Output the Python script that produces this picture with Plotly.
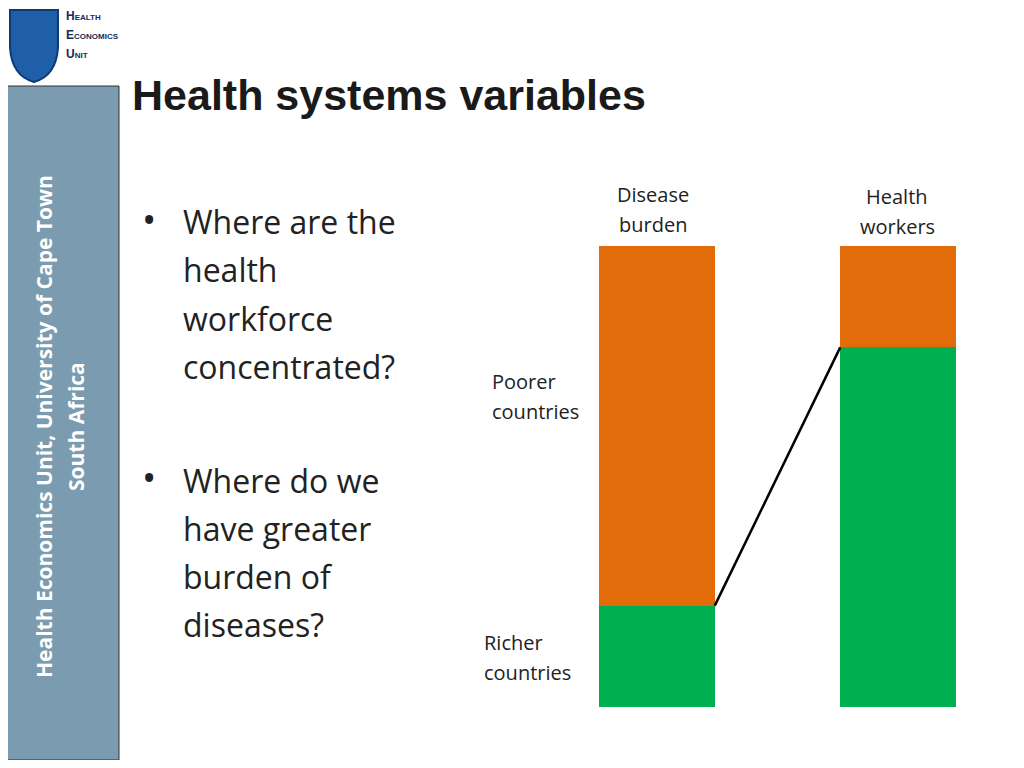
import plotly.graph_objects as go

bars = ["Disease burden", "Health workers"]
richer = [22, 78]
poorer = [78, 22]

W, H, OFF = 1008, 752, 8


def px(x):
    return (x - OFF) / W


def py(y):
    return 1 - (y - OFF) / H


fig = go.Figure()
fig.add_bar(x=[0, 1], y=richer, width=0.48, marker_color="#00b050", marker_line_width=0)
fig.add_bar(x=[0, 1], y=poorer, width=0.48, marker_color="#e36c0a", marker_line_width=0)
fig.add_scatter(x=[0.24, 0.76], y=[richer[0], richer[1]], mode="lines",
                line=dict(color="black", width=2.5))

fig.update_layout(
    barmode="stack", width=W, height=H, showlegend=False,
    margin=dict(l=0, r=0, t=0, b=0), paper_bgcolor="white", plot_bgcolor="white",
    xaxis=dict(domain=[px(599), px(956)], range=[-0.24, 1.24], visible=False),
    yaxis=dict(domain=[py(707), py(246)], range=[0, 100], visible=False),
    font=dict(family="Open Sans", color="#222"),
)


def txt(t, x, y, size, anchor="left", **kw):
    fig.add_annotation(xref="paper", yref="paper", x=px(x), y=py(y), showarrow=False,
                       xanchor=anchor, yanchor="middle", text=t,
                       font=dict(size=size, color=kw.pop("color", "#222"),
                                 family=kw.pop("family", "Open Sans")), **kw)


# sidebar
fig.add_shape(type="rect", xref="paper", yref="paper", x0=px(0), x1=px(119), y0=0, y1=py(86),
              fillcolor="#7b9bb0", line=dict(color="#333", width=1), layer="below")
txt("<b>Health Economics Unit, University of Cape Town</b>", 44, 427, 21, anchor="center",
    textangle=-90, color="white")
txt("<b>South Africa</b>", 76, 427, 21, anchor="center", textangle=-90, color="white")
# logo
fig.add_shape(type="path", xref="paper", yref="paper",
              path=f"M {px(10)} {py(10)} L {px(58)} {py(10)} L {px(58)} {py(48)} "
                   f"Q {px(56)} {py(76)} {px(34)} {py(82)} Q {px(12)} {py(76)} {px(10)} {py(48)} Z",
              fillcolor="#1f5fa8", line=dict(color="#0d3a75", width=2))
for i, (a, b) in enumerate([("H", "EALTH"), ("E", "CONOMICS"), ("U", "NIT")]):
    txt(f"<b>{a}<span style='font-size:8px'>{b}</span></b>", 64, 16 + i * 19, 12,
        color="#1a2a55", family="Arial")
# title
txt("<b>Health systems variables</b>", 130, 95, 43, color="#1a1a1a", family="Liberation Sans")
# bullets
for blk, y0 in [(["Where are the", "health", "workforce", "concentrated?"], 222),
                (["Where do we", "have greater", "burden of", "diseases?"], 480)]:
    txt("•", 140, y0 - 3, 38)
    for i, line in enumerate(blk):
        txt(line, 181, y0 + i * 48, 32)
# labels
for lines, x, y, anc in [(["Disease", "burden"], 653, 194, "center"),
                         (["Health", "workers"], 897, 196, "center"),
                         (["Poorer", "countries"], 490, 381, "left"),
                         (["Richer", "countries"], 482, 642, "left")]:
    for i, line in enumerate(lines):
        txt(line, x, y + i * 30, 20, anchor=anc)

fig.write_html("out.html")
